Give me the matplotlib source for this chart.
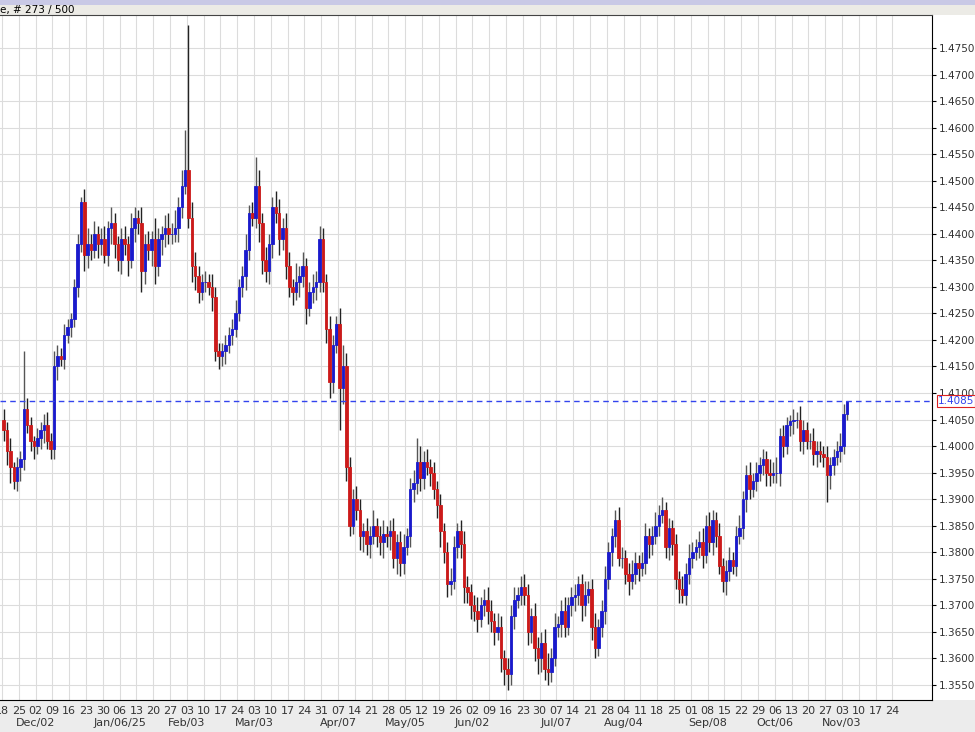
import numpy as np
import pandas as pd
import matplotlib
matplotlib.use("Agg")
import matplotlib.pyplot as plt
from matplotlib.patches import Rectangle
import matplotlib.transforms as mtransforms

# daily closes, one row per week (Mon-Fri), Nov 18 2024 -> Nov 04 2025
closes = [
    1.4030, 1.3990, 1.3960, 1.3935, 1.3960,
    1.3975, 1.4070, 1.4040, 1.4010, 1.4000,
    1.4015, 1.4030, 1.4040, 1.4010, 1.3995,
    1.4150, 1.4170, 1.4165, 1.4210, 1.4225,
    1.4240, 1.4300, 1.4380, 1.4460, 1.4360,
    1.4380, 1.4370, 1.4400, 1.4380, 1.4390,
    1.4360, 1.4410, 1.4420, 1.4380, 1.4350,
    1.4390, 1.4380, 1.4350, 1.4410, 1.4430,
    1.4420, 1.4330, 1.4380, 1.4370, 1.4390,
    1.4340, 1.4390, 1.4400, 1.4410, 1.4400,
    1.4400, 1.4410, 1.4450, 1.4490, 1.4520,
    1.4430, 1.4340, 1.4320, 1.4290, 1.4310,
    1.4310, 1.4300, 1.4280, 1.4180, 1.4170,
    1.4180, 1.4190, 1.4210, 1.4220, 1.4250,
    1.4300, 1.4320, 1.4370, 1.4440, 1.4430,
    1.4490, 1.4420, 1.4350, 1.4330, 1.4380,
    1.4450, 1.4440, 1.4390, 1.4410, 1.4340,
    1.4300, 1.4290, 1.4310, 1.4320, 1.4340,
    1.4260, 1.4290, 1.4300, 1.4310, 1.4390,
    1.4310, 1.4220, 1.4120, 1.4190, 1.4230,
    1.4110, 1.4150, 1.3960, 1.3850, 1.3900,
    1.3880, 1.3830, 1.3840, 1.3815, 1.3830,
    1.3850, 1.3830, 1.3820, 1.3835, 1.3830,
    1.3840, 1.3790, 1.3820, 1.3780, 1.3810,
    1.3830, 1.3920, 1.3930, 1.3970, 1.3940,
    1.3970, 1.3960, 1.3950, 1.3920, 1.3890,
    1.3840, 1.3800, 1.3740, 1.3745, 1.3810,
    1.3840, 1.3815, 1.3735, 1.3725, 1.3700,
    1.3690, 1.3675, 1.3700, 1.3710, 1.3690,
    1.3670, 1.3650, 1.3660, 1.3600, 1.3580,
    1.3570, 1.3680, 1.3710, 1.3720, 1.3735,
    1.3720, 1.3650, 1.3680, 1.3620, 1.3600,
    1.3630, 1.3580, 1.3575, 1.3600, 1.3660,
    1.3665, 1.3690, 1.3660, 1.3700, 1.3715,
    1.3720, 1.3740, 1.3700, 1.3720, 1.3730,
    1.3660, 1.3620, 1.3660, 1.3690, 1.3750,
    1.3800, 1.3830, 1.3860, 1.3790, 1.3790,
    1.3760, 1.3745, 1.3760, 1.3780, 1.3770,
    1.3780, 1.3830, 1.3815, 1.3830, 1.3850,
    1.3870, 1.3880, 1.3810, 1.3845, 1.3815,
    1.3750, 1.3730, 1.3720, 1.3760, 1.3790,
    1.3800, 1.3810, 1.3820, 1.3795, 1.3850,
    1.3820, 1.3860, 1.3830, 1.3775, 1.3745,
    1.3765, 1.3785, 1.3775, 1.3830, 1.3845,
    1.3900, 1.3945, 1.3920, 1.3935, 1.3950,
    1.3965, 1.3975, 1.3950, 1.3945, 1.3950,
    1.3950, 1.4020, 1.4000, 1.4040, 1.4048,
    1.4050, 1.4050, 1.4010, 1.4030, 1.4010,
    1.4010, 1.3985, 1.3990, 1.3985, 1.3980,
    1.3945, 1.3965, 1.3980, 1.3990, 1.4000,
    1.4060, 1.4085,
]
first_open = 1.4050

# wick lengths in pips above / below the body
upper_wick = [
    20, 15, 25, 10, 20,
    15, 110, 20, 15, 10,
    20, 15, 20, 25, 15,
    30, 20, 15, 20, 15,
    10, 15, 20, 10, 25,
    30, 20, 25, 15, 20,
    25, 15, 30, 20, 15,
    20, 25, 15, 30, 20,
    15, 30, 20, 25, 15,
    40, 20, 15, 25, 30,
    20, 35, 20, 30, 75,
    273, 30, 25, 20, 15,
    20, 15, 25, 20, 15,
    15, 20, 15, 20, 25,
    15, 20, 30, 15, 20,
    55, 30, 20, 25, 20,
    20, 30, 25, 20, 30,
    25, 15, 35, 20, 25,
    15, 20, 25, 20, 25,
    20, 15, 25, 20, 15,
    30, 40, 25, 20, 20,
    25, 20, 15, 25, 20,
    30, 15, 20, 25, 15,
    20, 25, 15, 20, 25,
    15, 20, 25, 45, 30,
    20, 25, 15, 20, 15,
    20, 15, 20, 25, 20,
    15, 20, 25, 20, 15,
    20, 25, 15, 20, 25,
    20, 15, 25, 20, 15,
    20, 20, 25, 15, 20,
    25, 20, 15, 25, 20,
    20, 25, 30, 20, 25,
    15, 20, 25, 15, 20,
    20, 15, 20, 25, 15,
    20, 25, 15, 20, 25,
    20, 15, 20, 25, 20,
    15, 20, 25, 20, 15,
    20, 25, 15, 20, 25,
    20, 25, 15, 20, 15,
    20, 15, 25, 20, 25,
    20, 15, 20, 25, 20,
    25, 20, 15, 25, 15,
    20, 25, 15, 20, 25,
    15, 20, 25, 15, 20,
    15, 20, 15, 25, 20,
    30, 15, 20, 15, 10,
    20, 15, 25, 20, 15,
    15, 25, 20, 20, 15,
    20, 15, 15, 20, 25,
    20, 0,
]
lower_wick = [
    20, 25, 30, 15, 20,
    25, 20, 15, 20, 25,
    15, 20, 25, 15, 20,
    20, 25, 15, 20, 15,
    20, 15, 20, 15, 30,
    25, 20, 15, 25, 20,
    15, 20, 30, 25, 20,
    25, 20, 30, 15, 25,
    20, 40, 25, 20, 30,
    35, 20, 30, 25, 20,
    20, 15, 25, 20, 15,
    20, 30, 25, 20, 15,
    20, 15, 25, 20, 25,
    20, 25, 15, 20, 15,
    15, 20, 25, 20, 15,
    20, 35, 25, 20, 25,
    25, 20, 30, 20, 25,
    20, 25, 15, 30, 20,
    30, 15, 20, 25, 20,
    20, 25, 30, 20, 15,
    80, 30, 25, 20, 15,
    20, 25, 30, 20, 25,
    15, 20, 25, 30, 20,
    25, 20, 30, 25, 20,
    15, 20, 25, 20, 25,
    20, 15, 25, 20, 25,
    30, 20, 25, 20, 15,
    20, 25, 30, 20, 25,
    20, 25, 15, 20, 25,
    20, 25, 15, 25, 30,
    30, 20, 25, 15, 20,
    20, 25, 20, 25, 30,
    25, 20, 25, 20, 15,
    20, 25, 20, 15, 20,
    25, 20, 30, 20, 15,
    25, 20, 15, 20, 25,
    20, 25, 20, 15, 20,
    20, 25, 15, 20, 25,
    15, 20, 25, 20, 15,
    20, 15, 20, 25, 20,
    20, 25, 15, 20, 20,
    20, 15, 20, 25, 15,
    20, 25, 20, 15, 20,
    25, 20, 15, 20, 15,
    20, 25, 20, 15, 20,
    15, 20, 25, 20, 15,
    20, 25, 20, 15, 20,
    25, 15, 20, 25, 15,
    15, 20, 25, 15, 20,
    50, 25, 20, 15, 20,
    15, 10,
]

week_starts = pd.date_range("2024-11-18", periods=54, freq="W-MON")
day_labels = [d.strftime("%d") for d in week_starts]
month_weeks = [2, 7, 11, 15, 20, 24, 28, 33, 37, 42, 46, 50]
month_labels = ["Dec/02", "Jan/06/25", "Feb/03", "Mar/03", "Apr/07", "May/05",
                "Jun/02", "Jul/07", "Aug/04", "Sep/08", "Oct/06", "Nov/03"]
last_price = 1.4085

closes = np.array(closes)
opens = np.concatenate([[first_open], closes[:-1]])
highs = np.maximum(opens, closes) + np.array(upper_wick) / 10000
lows = np.minimum(opens, closes) - np.array(lower_wick) / 10000
x = np.arange(len(closes))
up = closes >= opens

fig = plt.figure(figsize=(9.75, 7.32), dpi=100, facecolor="white")
W, H = 975, 732
# header strips and bottom band (behind the axes)
fig.patches.append(Rectangle((0, 1 - 5 / H), 1, 5 / H, transform=fig.transFigure,
                             facecolor="#c9c9e6", edgecolor="none", zorder=-5))
fig.patches.append(Rectangle((0, 1 - 15 / H), 1, 10 / H, transform=fig.transFigure,
                             facecolor="#ecebe6", edgecolor="none", zorder=-5))
fig.patches.append(Rectangle((0, 0), 1, 32 / H, transform=fig.transFigure,
                             facecolor="#ececec", edgecolor="none", zorder=-5))
fig.text(0.0, 1 - 10 / H, "e, # 273 / 500", fontsize=7.5, va="center", ha="left")

ax = fig.add_axes([0, 32 / H, 932 / W, 685 / H])
ax.set_facecolor("white")
ax.set_xlim(-1.1, 276.3)
ax.set_ylim(1.35217, 1.48122)

yt = np.arange(1.3550, 1.47501, 0.005)
ax.set_yticks(yt)
ax.set_yticklabels([f"{v:.4f}" for v in yt], fontsize=7.5, color="#333333")
ax.yaxis.tick_right()
ax.tick_params(axis="y", length=3, pad=2)
xt = np.arange(len(week_starts)) * 5 - 0.5
ax.set_xticks(xt)
ax.set_xticklabels(day_labels, fontsize=8, color="#333333")
ax.tick_params(axis="x", length=0, pad=4)
ax.grid(True, color="#dcdcdc", linewidth=0.8)
ax.set_axisbelow(True)
ax.spines["left"].set_visible(False)
ax.spines["top"].set_color("#444444")

trans = mtransforms.blended_transform_factory(ax.transData, ax.transAxes)
for wk, lab in zip(month_weeks, month_labels):
    ax.text(wk * 5 - 0.5, -0.034, lab, transform=trans, ha="center", va="center",
            fontsize=8, color="#333333", clip_on=False)

wick_cols = np.where(up, "#555555", "#222222")
ax.vlines(x, lows, highs, colors=wick_cols, linewidth=1.0, zorder=2)
body_cols = np.where(up, "#1a1acc", "#cc1a1a")
ax.bar(x, closes - opens, bottom=opens, width=0.75, color=body_cols,
       edgecolor=body_cols, linewidth=0.6, zorder=3)

ax.axhline(last_price, color="#3344ee", linestyle=(0, (4, 3)), linewidth=1.0, zorder=4)
ytr = mtransforms.blended_transform_factory(ax.transAxes, ax.transData)
ax.text(1.006, last_price, f"{last_price:.4f}", transform=ytr, fontsize=7.5,
        color="#3344ee", va="center", ha="left", clip_on=False, zorder=6,
        bbox=dict(boxstyle="square,pad=0.1", facecolor="white", edgecolor="#dd2222", linewidth=0.8))

fig.savefig("out.png", dpi=100, facecolor=fig.get_facecolor())
